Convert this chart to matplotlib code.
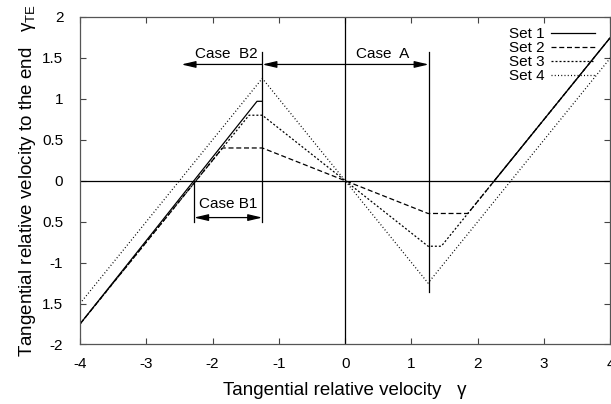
import numpy as np
import matplotlib.pyplot as plt

plt.rcParams['font.family'] = ['Liberation Sans', 'DejaVu Sans']
plt.rcParams['mathtext.default'] = 'regular'
plt.rcParams['axes.unicode_minus'] = False

# piecewise curves (gamma, gamma_TE); nan splits a branch
x1 = [-4, -1.33, -1.25, np.nan, 2.25, 4]
y1 = [-1.75, 0.97, 0.97, np.nan, 0, 1.75]
x2 = [-4, -1.85, -1.25, 1.25, 1.85, 4]
y2 = [-1.75, 0.40, 0.40, -0.40, -0.40, 1.75]
x3 = [-4, -1.45, -1.25, 1.25, 1.45, 4]
y3 = [-1.75, 0.80, 0.80, -0.80, -0.80, 1.75]
x4 = [-4, -1.25, 1.25, 4]
y4 = [-1.5, 1.25, -1.25, 1.5]
names = ['Set 1', 'Set 2', 'Set 3', 'Set 4']

xticks = [-4, -3, -2, -1, 0, 1, 2, 3, 4]
yticks = [-2, -1.5, -1, -0.5, 0, 0.5, 1, 1.5, 2]
ylabels = ['-2', '1.5', '-1', '0.5', '0', '0.5', '1', '1.5', '2']

fig = plt.figure(figsize=(6.11, 4.04), dpi=100)
ax = fig.add_axes([0.1309, 0.1473, 0.8681, 0.8107])

lw = 0.9
ax.plot(x1, y1, color='black', lw=lw, label=names[0])
ax.plot(x2, y2, color='black', lw=lw, dashes=(4, 2.2), label=names[1])
ax.plot(x3, y3, color='black', lw=lw, dashes=(1.6, 1.6), label=names[2])
ax.plot(x4, y4, color='black', lw=lw, dashes=(0.8, 1.8), label=names[3])

# axes through origin
ax.axhline(0, color='black', lw=0.9)
ax.axvline(0, color='black', lw=0.9)

# case markers
ax.plot([-1.25, -1.25], [-0.5, 1.575], color='black', lw=0.9)
ax.plot([1.26, 1.26], [-1.36, 1.575], color='black', lw=0.9)
ax.plot([-2.28, -2.28], [0, -0.5], color='black', lw=0.9)

arr = dict(color='black', lw=0.9, shrinkA=0, shrinkB=0, mutation_scale=10)
ax.annotate('', xy=(-2.47, 1.42), xytext=(-1.25, 1.42),
            arrowprops=dict(arrowstyle='-|>,head_length=0.85,head_width=0.2', **arr))
ax.annotate('', xy=(-1.25, 1.42), xytext=(1.26, 1.42),
            arrowprops=dict(arrowstyle='<|-|>,head_length=0.85,head_width=0.2', **arr))
ax.annotate('', xy=(-2.28, -0.45), xytext=(-1.25, -0.45),
            arrowprops=dict(arrowstyle='<|-|>,head_length=0.85,head_width=0.2', **arr))
ax.text(-1.8, 1.55, 'Case  B2', fontsize=11, ha='center', va='center')
ax.text(0.56, 1.55, 'Case  A', fontsize=11, ha='center', va='center')
ax.text(-1.76, -0.29, 'Case B1', fontsize=11, ha='center', va='center')

ax.set_xlim(-4, 4)
ax.set_ylim(-2, 2)
ax.set_xticks(xticks)
ax.set_yticks(yticks)
ax.set_yticklabels(ylabels)
ax.tick_params(direction='in', length=4, width=0.8, top=True, right=True,
               labelsize=11, colors='#444444', labelcolor='black')
ax.tick_params(axis='x', pad=9)
ax.tick_params(axis='y', pad=12)
for s in ax.spines.values():
    s.set_color('#555555')
    s.set_linewidth(0.9)

ax.set_xlabel('Tangential relative velocity   γ', fontsize=13.5, labelpad=8)
ax.set_ylabel('Tangential relative velocity to the end   $γ_{TE}$', fontsize=13.5, labelpad=3)

ax.legend(loc='upper right', bbox_to_anchor=(0.99, 1.0), frameon=False,
          markerfirst=False, fontsize=11, handlelength=2.9, handletextpad=0.4,
          labelspacing=0.0, borderaxespad=0.0, borderpad=0.65)

fig.savefig('out.png', dpi=100)
